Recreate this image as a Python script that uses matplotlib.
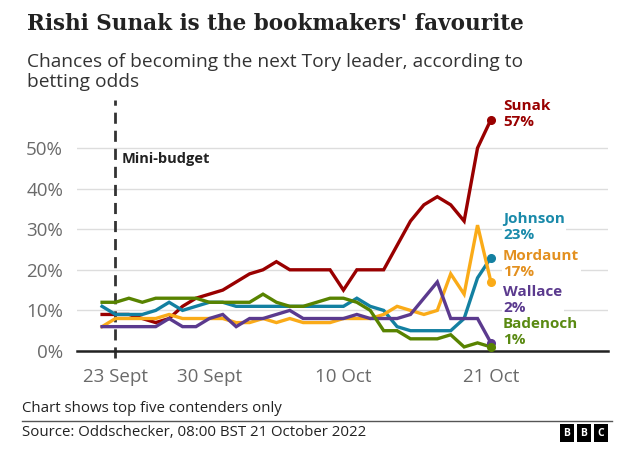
import matplotlib.pyplot as plt
import pandas as pd
import numpy as np

# betting-odds implied chances (%), daily from 22 Sept to 21 Oct 2022
dates = pd.date_range("2022-09-22", "2022-10-21", freq="D")
sunak = [9, 9, 9, 8, 7, 8, 11, 13, 14, 15, 17, 19, 20, 22, 20,
         20, 20, 20, 15, 20, 20, 20, 26, 32, 36, 38, 36, 32, 50, 57]
johnson = [11, 9, 9, 9, 10, 12, 10, 11, 12, 12, 11, 11, 11, 11, 11,
           11, 11, 11, 11, 13, 11, 10, 6, 5, 5, 5, 5, 8, 18, 23]
mordaunt = [6, 8, 8, 8, 8, 9, 8, 8, 8, 8, 7, 7, 8, 7, 8,
            7, 7, 7, 8, 8, 8, 9, 11, 10, 9, 10, 19, 14, 31, 17]
wallace = [6, 6, 6, 6, 6, 8, 6, 6, 8, 9, 6, 8, 8, 9, 10,
           8, 8, 8, 8, 9, 8, 8, 8, 9, 13, 17, 8, 8, 8, 2]
badenoch = [12, 12, 13, 12, 13, 13, 13, 13, 12, 12, 12, 12, 14, 12, 11,
            11, 12, 13, 13, 12, 10, 5, 5, 3, 3, 3, 4, 1, 2, 1]

names = ["Sunak", "Johnson", "Mordaunt", "Wallace", "Badenoch"]
series = [sunak, johnson, mordaunt, wallace, badenoch]
line_colors = ["#990000", "#1380A1", "#FAAB18", "#5B3A8E", "#588300"]
text_colors = ["#990000", "#1A8AAA", "#E3901F", "#5B3A8E", "#5A8A12"]
label_y = [114, 227, 264, 300, 332]   # pixel rows of the end labels

tick_dates = pd.to_datetime(["2022-09-23", "2022-09-30", "2022-10-10", "2022-10-21"])
tick_labels = ["23 Sept", "30 Sept", "10 Oct", "21 Oct"]
budget_date = pd.Timestamp("2022-09-23")

W, H = 640, 459
plt.rcParams["font.family"] = ["Open Sans", "DejaVu Sans"]

fig = plt.figure(figsize=(W / 100, H / 100), dpi=100)


def fx(x):
    return x / W


def fy(y):
    return 1 - y / H


ax = fig.add_axes([fx(77), fy(351), fx(608) - fx(77), fy(107.4) - fy(351)])

for vals, c in zip(series, line_colors):
    ax.plot(dates, vals, color=c, lw=2.4, solid_joinstyle="miter", zorder=3)
    ax.plot(dates[-1], vals[-1], "o", color=c, ms=5.5, zorder=4, clip_on=False)

ax.set_ylim(0, 60)
ax.set_xlim(dates[0] - pd.Timedelta(days=1.87), dates[-1] + pd.Timedelta(days=8.73))
ax.set_yticks([0, 10, 20, 30, 40, 50])
ax.set_yticklabels([f"{v}%" for v in [0, 10, 20, 30, 40, 50]])
ax.grid(axis="y", color="#dddddd", lw=1)
ax.set_axisbelow(True)
ax.set_xticks(tick_dates)
ax.set_xticklabels(tick_labels)
ax.tick_params(axis="both", length=0, labelsize=13.5, labelcolor="#6a6a6a")
ax.tick_params(axis="x", pad=12)
ax.tick_params(axis="y", pad=10)
for s in ["top", "right", "left"]:
    ax.spines[s].set_visible(False)
ax.spines["bottom"].set_color("#222222")
ax.spines["bottom"].set_linewidth(1.8)

# mini-budget marker
ax.axvline(budget_date, ymin=-0.03, ymax=(351 - 100) / (351 - 107.4),
           color="#333333", lw=2, dashes=(4, 2.5), clip_on=False, zorder=2)
fig.text(fx(122), fy(159), "Mini-budget", fontsize=10.5, fontweight="bold",
         color="#222222", va="center", ha="left")

# end labels
for name, vals, c, y in zip(names, series, text_colors, label_y):
    fig.text(fx(503), fy(y), f"{name}\n{vals[-1]}%", fontsize=11,
             fontweight="bold", color=c, va="center", ha="left",
             linespacing=1.2,
             bbox=dict(facecolor="white", edgecolor="none", pad=1))

# titles
fig.text(fx(27), fy(24), "Rishi Sunak is the bookmakers' favourite",
         fontsize=15.5, family="DejaVu Serif", fontweight="bold", color="#222222",
         va="center")
fig.text(fx(27), fy(72), "Chances of becoming the next Tory leader, according to\nbetting odds",
         fontsize=13.8, color="#333333", va="center", linespacing=1.18)

# footer
fig.text(fx(22), fy(408), "Chart shows top five contenders only",
         fontsize=10.8, color="#222222", va="center")
fig.add_artist(plt.Line2D([fx(22), fx(612)], [fy(421), fy(421)], color="#555555", lw=1))
fig.text(fx(22), fy(433), "Source: Oddschecker, 08:00 BST 21 October 2022",
         fontsize=10.8, color="#222222", va="center")
for i, letter in enumerate(["B", "B", "C"]):
    fig.text(fx(567 + i * 17), fy(433), letter, fontsize=7.5, fontweight="bold",
             color="white", ha="center", va="center",
             bbox=dict(facecolor="black", edgecolor="none", boxstyle="square,pad=0.35"))

fig.savefig("out.png", dpi=100)
